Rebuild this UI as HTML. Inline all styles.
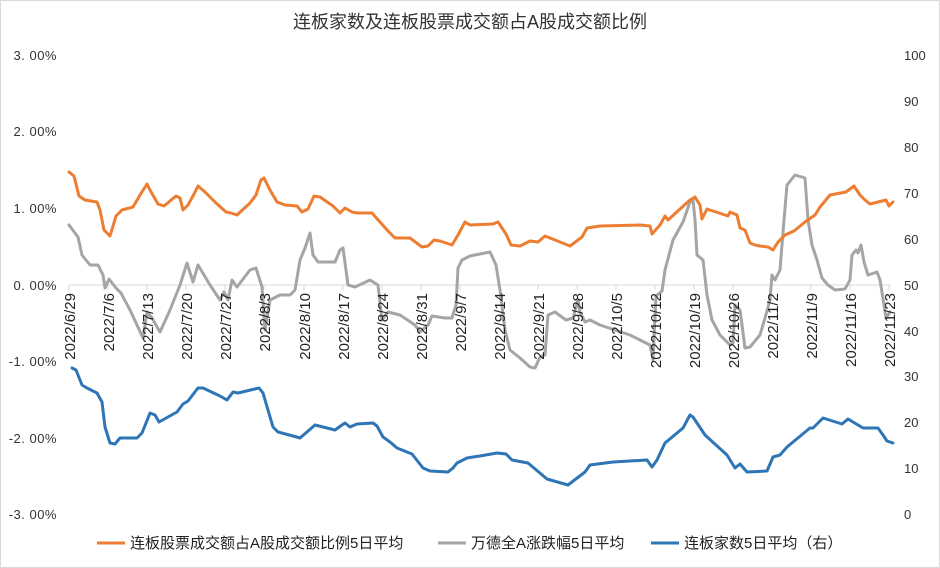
<!DOCTYPE html>
<html><head><meta charset="utf-8"><style>
body{margin:0;background:#fff;}
svg{display:block;font-family:"Liberation Sans","Noto Sans CJK SC",sans-serif;}
</style></head><body>
<svg width="940" height="568" viewBox="0 0 940 568" xmlns="http://www.w3.org/2000/svg">
<rect x="0.5" y="0.5" width="939" height="567" fill="#fff" stroke="#d9d9d9"/>
<text x="470" y="28" text-anchor="middle" font-size="18" fill="#333">连板家数及连板股票成交额占A股成交额比例</text>
<g font-size="13" fill="#333" text-anchor="end" letter-spacing="0.5">
<text x="57" y="60">3. 00%</text><text x="57" y="136">2. 00%</text><text x="57" y="213">1. 00%</text>
<text x="57" y="290">0. 00%</text><text x="57" y="366">-1. 00%</text><text x="57" y="443">-2. 00%</text><text x="57" y="519">-3. 00%</text>
</g>
<g font-size="13" fill="#333">
<text x="904" y="60">100</text><text x="904" y="106">90</text><text x="904" y="152">80</text><text x="904" y="198">70</text>
<text x="904" y="244">60</text><text x="904" y="290">50</text><text x="904" y="336">40</text><text x="904" y="381">30</text>
<text x="904" y="427">20</text><text x="904" y="473">10</text><text x="904" y="519">0</text>
</g>
<line x1="69" y1="285" x2="891" y2="285" stroke="#d9d9d9"/>
<g stroke="#d9d9d9">
<line x1="69" y1="285" x2="69" y2="290"/><line x1="108" y1="285" x2="108" y2="290"/><line x1="147" y1="285" x2="147" y2="290"/><line x1="186" y1="285" x2="186" y2="290"/><line x1="225" y1="285" x2="225" y2="290"/><line x1="264" y1="285" x2="264" y2="290"/><line x1="304" y1="285" x2="304" y2="290"/><line x1="343" y1="285" x2="343" y2="290"/><line x1="382" y1="285" x2="382" y2="290"/><line x1="421" y1="285" x2="421" y2="290"/><line x1="460" y1="285" x2="460" y2="290"/><line x1="499" y1="285" x2="499" y2="290"/><line x1="538" y1="285" x2="538" y2="290"/><line x1="577" y1="285" x2="577" y2="290"/><line x1="616" y1="285" x2="616" y2="290"/><line x1="655" y1="285" x2="655" y2="290"/><line x1="694" y1="285" x2="694" y2="290"/><line x1="733" y1="285" x2="733" y2="290"/><line x1="772" y1="285" x2="772" y2="290"/><line x1="811" y1="285" x2="811" y2="290"/><line x1="850" y1="285" x2="850" y2="290"/><line x1="889" y1="285" x2="889" y2="290"/>
</g>
<polyline fill="none" stroke="#a5a5a5" stroke-width="3" stroke-linejoin="round" stroke-linecap="round" points="69,225 78,237 82,255 90,265 98,265 103,275 105,288 109,279 116,288 121,293 130,310 137,325 143,338 147,312 152,318 160,332 170,310 180,285 187,263 193,282 198,265 210,285 220,300 224,292 228,300 232,280 237,287 250,270 256,268 262,287 265,330 270,300 280,295 290,295 295,290 300,260 305,248 310,233 313,255 318,262 335,262 340,250 343,248 348,285 355,287 370,280 378,285 382,320 388,312 400,315 415,325 420,332 428,325 432,316 445,318 452,318 456,305 458,268 462,260 470,256 490,252 496,265 500,290 505,330 510,350 520,358 530,367 535,368 540,357 545,355 548,315 555,312 566,320 573,318 578,300 580,312 585,322 590,320 600,325 630,335 640,340 650,345 653,360 656,296 662,291 665,270 673,240 683,222 690,202 693,200 695,220 697,255 703,260 707,295 712,320 720,335 730,345 733,343 735,305 740,310 745,348 750,347 760,335 765,318 770,300 772,275 775,280 780,270 784,220 787,185 795,175 805,178 808,220 812,245 817,260 822,278 828,285 835,290 845,289 850,280 852,255 856,250 858,253 861,245 864,262 868,275 877,272 880,280 884,305 886,318 890,312"/>
<polyline fill="none" stroke="#ed7d31" stroke-width="3" stroke-linejoin="round" stroke-linecap="round" points="69,172 74,176 79,196 85,200 97,202 100,210 104,230 110,236 116,216 122,210 133,207 140,195 147,184 150,190 158,204 164,206 176,196 180,198 183,210 188,205 194,194 198,186 205,192 216,203 226,212 231,213 237,215 250,203 256,195 261,180 264,178 270,190 277,202 285,205 297,206 302,212 308,209 314,196 320,197 333,206 340,213 345,208 352,212 357,213 372,213 380,222 388,231 395,238 410,238 422,247 428,246 434,240 440,241 452,245 458,235 465,222 470,225 493,224 498,222 506,234 511,245 520,246 530,241 538,242 545,236 555,240 570,246 582,237 587,228 600,226 640,225 650,226 652,234 660,225 665,216 668,220 690,200 695,197 700,205 702,219 707,209 728,216 730,212 737,215 740,228 745,230 750,243 755,245 760,246 768,247 773,250 778,242 785,235 794,231 805,222 815,215 820,207 830,195 846,192 850,189 854,186 860,195 865,200 870,204 878,202 886,200 889,206 893,202"/>
<polyline fill="none" stroke="#2e75b6" stroke-width="3" stroke-linejoin="round" stroke-linecap="round" points="72,368 76,370 82,385 87,388 97,393 102,402 105,427 110,443 115,444 120,438 137,438 142,433 150,413 155,415 159,422 177,412 183,404 188,401 198,388 203,388 220,396 227,400 233,392 238,393 259,388 263,393 273,427 278,432 293,436 300,438 315,425 335,430 342,425 345,423 350,427 357,424 373,423 377,426 383,437 390,442 397,448 412,454 423,468 430,471 448,472 453,468 457,463 467,458 473,457 480,456 497,453 506,454 512,460 528,463 547,479 568,485 585,472 590,465 613,462 647,460 652,467 657,460 665,443 683,428 690,415 693,417 705,435 727,455 735,468 740,464 747,472 767,471 773,457 780,455 787,447 810,428 813,428 823,418 842,424 848,419 853,422 863,428 878,428 883,435 887,441 893,443"/>
<g font-size="15" fill="#222" text-anchor="end">
<text transform="translate(75,293) rotate(-90)">2022/6/29</text><text transform="translate(114,293) rotate(-90)">2022/7/6</text><text transform="translate(153,293) rotate(-90)">2022/7/13</text><text transform="translate(192,293) rotate(-90)">2022/7/20</text><text transform="translate(231,293) rotate(-90)">2022/7/27</text><text transform="translate(270,293) rotate(-90)">2022/8/3</text><text transform="translate(310,293) rotate(-90)">2022/8/10</text><text transform="translate(349,293) rotate(-90)">2022/8/17</text><text transform="translate(388,293) rotate(-90)">2022/8/24</text><text transform="translate(427,293) rotate(-90)">2022/8/31</text><text transform="translate(466,293) rotate(-90)">2022/9/7</text><text transform="translate(505,293) rotate(-90)">2022/9/14</text><text transform="translate(544,293) rotate(-90)">2022/9/21</text><text transform="translate(583,293) rotate(-90)">2022/9/28</text><text transform="translate(622,293) rotate(-90)">2022/10/5</text><text transform="translate(661,293) rotate(-90)">2022/10/12</text><text transform="translate(700,293) rotate(-90)">2022/10/19</text><text transform="translate(739,293) rotate(-90)">2022/10/26</text><text transform="translate(778,293) rotate(-90)">2022/11/2</text><text transform="translate(817,293) rotate(-90)">2022/11/9</text><text transform="translate(856,293) rotate(-90)">2022/11/16</text><text transform="translate(895,293) rotate(-90)">2022/11/23</text>
</g>
<g font-size="15" fill="#222">
<line x1="97" y1="543" x2="125" y2="543" stroke="#ed7d31" stroke-width="3"/>
<text x="130" y="548">连板股票成交额占A股成交额比例5日平均</text>
<line x1="438" y1="543" x2="466" y2="543" stroke="#a5a5a5" stroke-width="3"/>
<text x="471" y="548">万德全A涨跌幅5日平均</text>
<line x1="651" y1="543" x2="679" y2="543" stroke="#2e75b6" stroke-width="3"/>
<text x="684" y="548">连板家数5日平均（右）</text>
</g>
</svg>
</body></html>
